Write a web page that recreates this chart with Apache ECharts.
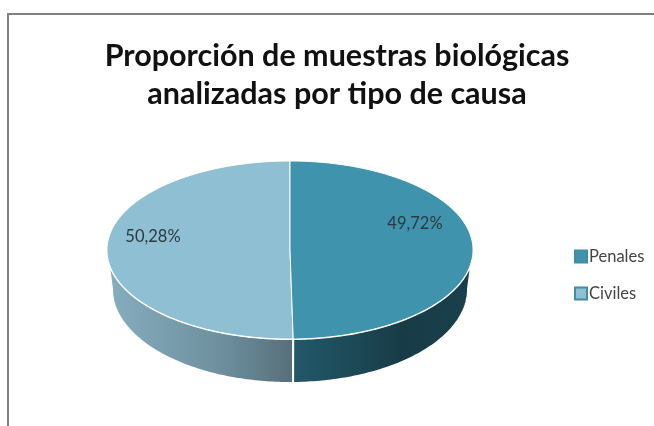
<!DOCTYPE html>
<html>
<head>
<meta charset="utf-8">
<script src="https://cdn.jsdelivr.net/npm/echarts@6/dist/echarts.min.js"></script>
<style>
  html, body { margin: 0; padding: 0; background: #fff; }
  #chart { width: 654px; height: 426px; }
</style>
</head>
<body>
<div id="chart"></div>
<script>
const categories = ['Penales', 'Civiles'];
const shares = [49.72, 50.28];
const labels = ['49,72%', '50,28%'];

const topColors = ['#3f93ac', '#8fbfd2'];
const sideStops = [['#22596a', '#183c47', '#19404c'], ['#86aebf', '#6e909f', '#566f7a']];
const labelPos = [[415, 224], [153, 237]];

// pie is a tilted ellipse, so it needs custom shapes
const cx = 290;
const topEllipse = { cy: 250, rx: 183, ry: 89 };
const baseEllipse = { cy: 289, rx: 178, ry: 94 };
const total = shares.reduce((a, b) => a + b, 0);

function arc(e, a0, a1) {
  const pts = [];
  const n = Math.max(2, Math.ceil((a1 - a0) * 60));
  for (let i = 0; i <= n; i++) {
    const t = a0 + (a1 - a0) * i / n;
    pts.push([cx + e.rx * Math.sin(t), e.cy - e.ry * Math.cos(t)]);
  }
  return pts;
}

function sliceItem(index) {
  return function (params, api) {
    const before = shares.slice(0, index).reduce((a, b) => a + b, 0);
    const a0 = before / total * Math.PI * 2;
    const a1 = (before + api.value(0)) / total * Math.PI * 2;
    const children = [];
    // front wall only shows between 90 and 270 degrees
    const s0 = Math.max(a0, Math.PI / 2);
    const s1 = Math.min(a1, Math.PI * 1.5);
    if (s1 > s0) {
      const side = arc(topEllipse, s0, s1).concat(arc(baseEllipse, s0, s1).reverse());
      children.push({
        type: 'polygon',
        shape: { points: side },
        style: {
          fill: new echarts.graphic.LinearGradient(0, 0, 1, 0, [
            { offset: 0, color: sideStops[index][0] },
            { offset: 0.6, color: sideStops[index][1] },
            { offset: 1, color: sideStops[index][2] }
          ]),
          stroke: '#fff',
          lineWidth: 2
        }
      });
    }
    children.push({
      type: 'polygon',
      shape: { points: [[cx, topEllipse.cy]].concat(arc(topEllipse, a0, a1)) },
      style: { fill: topColors[index], stroke: '#fff', lineWidth: 1 }
    });
    children.push({
      type: 'text',
      style: {
        x: labelPos[index][0],
        y: labelPos[index][1],
        text: labels[index],
        fill: '#2b3a40',
        font: '16.5px Lato',
        align: 'center',
        verticalAlign: 'middle'
      }
    });
    return { type: 'group', children: children };
  };
}

const chart = echarts.init(document.getElementById('chart'));
chart.setOption({
  animation: false,
  backgroundColor: '#fff',
  title: {
    text: 'Proporción de muestras biológicas\nanalizadas por tipo de causa',
    left: 332,
    top: 32,
    textAlign: 'center',
    textStyle: {
      fontFamily: 'Lato',
      fontSize: 30.5,
      fontWeight: 'bold',
      color: '#111',
      lineHeight: 38
    }
  },
  legend: {
    data: categories,
    orient: 'vertical',
    left: 569,
    top: 243,
    itemWidth: 12,
    itemHeight: 12,
    itemGap: 20,
    icon: 'rect',
    textStyle: { fontFamily: 'Lato', fontSize: 16.5, color: '#444', padding: [0, 0, 0, -3] }
  },
  graphic: [{
    type: 'polyline',
    silent: true,
    shape: { points: [[8, 426], [8, 14], [654, 14]] },
    style: { stroke: '#808080', lineWidth: 2, fill: null }
  }],
  series: categories.map((name, i) => ({
    name: name,
    type: 'custom',
    coordinateSystem: 'none',
    renderItem: sliceItem(i),
    itemStyle: { color: topColors[i], borderColor: '#3f8ea6', borderWidth: 1 },
    data: [[shares[i]]],
    z: i === 0 ? 3 : 2
  }))
});
</script>
</body>
</html>
